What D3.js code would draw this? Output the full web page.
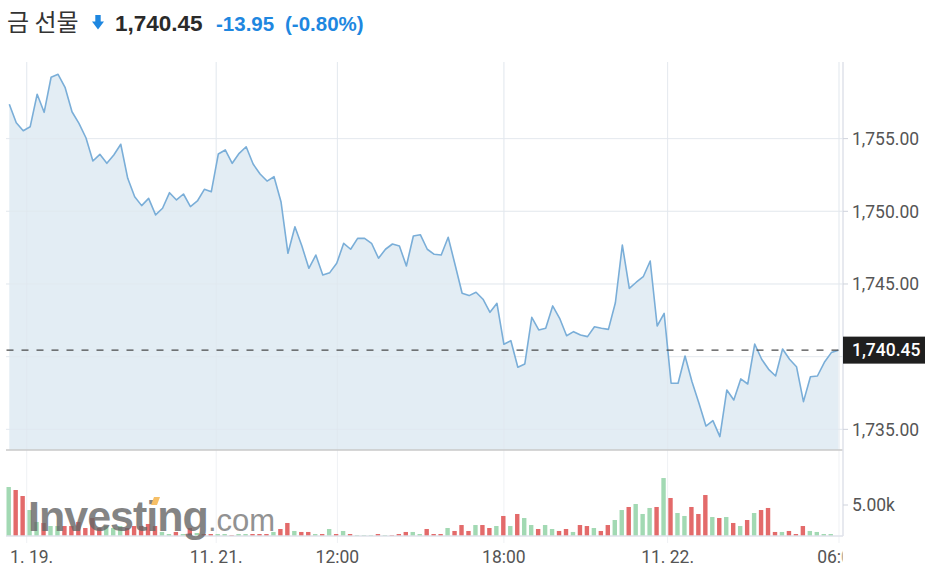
<!DOCTYPE html>
<html><head><meta charset="utf-8">
<script src="https://cdn.jsdelivr.net/npm/d3@7"></script>
<style>body{margin:0;background:#fff;}svg{display:block;}</style>
</head><body>
<svg id="chart" width="933" height="579"></svg>
<script>
// ---- data ----
const title = "금 선물";
const lastPrice = 1740.45;
const change = -13.95;
const changePct = -0.80;

const prices = [
1757.36,1756.09,1755.54,1755.82,1758.05,1756.81,1759.22,1759.42,1758.53,1756.85,
1756.05,1755.06,1753.46,1753.92,1753.30,1753.87,1754.61,1752.27,1751.00,1750.39,
1750.89,1749.75,1750.21,1751.28,1750.78,1751.19,1750.32,1750.71,1751.51,1751.35,
1753.94,1754.22,1753.30,1753.99,1754.44,1753.25,1752.57,1752.08,1752.38,1750.66,
1747.11,1748.94,1747.61,1746.08,1746.99,1745.62,1745.78,1746.42,1747.80,1747.39,
1748.14,1748.14,1747.80,1746.77,1747.39,1747.75,1747.61,1746.24,1748.30,1748.39,
1747.39,1747.04,1746.99,1748.21,1746.31,1744.36,1744.20,1744.43,1743.95,1743.05,
1743.67,1740.85,1741.10,1739.27,1739.50,1742.71,1741.84,1741.95,1743.49,1742.64,
1741.44,1741.72,1741.49,1741.38,1742.06,1741.95,1741.88,1743.71,1747.68,1744.70,
1745.12,1745.50,1746.58,1742.11,1742.98,1738.17,1738.17,1740.05,1738.28,1736.80,
1735.23,1735.60,1734.50,1737.71,1737.02,1738.47,1738.12,1740.87,1739.82,1739.13,
1738.67,1740.53,1739.82,1739.31,1736.91,1738.62,1738.67,1739.61,1740.28,1740.45
];

const volumes = [
7900,7420,6450,4190,2260,2100,1610,1610,1610,1610,
2260,1290,2900,1290,1610,1290,1610,1290,1610,1610,
1940,1610,650,320,650,320,1290,480,320,320,
320,320,160,320,320,320,320,320,650,1130,
2100,810,650,650,320,320,1130,320,810,320,
160,160,160,320,160,160,320,650,650,320,
1130,320,320,1290,810,1770,810,1770,1770,1290,
1610,3230,1610,3550,2900,1770,1130,1770,1130,810,
1130,650,1770,1610,1290,810,1770,2580,4190,4680,
5160,3550,4520,4680,9350,6130,3710,3230,4680,3550,
6610,3060,2900,3060,2100,1610,2580,3710,4190,4520,
650,650,810,320,1610,810,650,320,320
];
// 1 = up (green), 0 = down (red)
const volumeUp = [
1,0,0,1,1,0,1,1,0,0,
0,0,0,0,1,1,1,0,0,0,
0,0,1,1,0,1,0,1,0,0,
1,1,0,1,1,0,0,0,1,0,
0,1,0,0,1,0,1,0,1,0,
1,1,1,0,1,0,0,0,1,1,
0,0,0,1,0,0,0,1,0,0,
1,0,1,0,1,1,0,1,1,0,
0,1,0,0,1,0,0,1,1,0,
1,1,1,0,1,0,1,1,0,0,
0,1,0,1,0,1,0,1,0,0,
0,1,0,0,0,1,1,1,1
];

const priceTicks = [1735, 1740, 1745, 1750, 1755];
const volumeTicks = [5000];
const timeTickPos = [2.5, 29.7, 47.1, 71.0, 94.5, 119.1];
const timeTickLabels = ["11. 19.", "11. 21.", "12:00", "18:00", "11. 22.", "06:00"];

// ---- drawing ----
const svg = d3.select("#chart");
const plotL = 6, plotR = 843, priceTop = 62, priceBottom = 450, volBase = 536;

const x = d3.scaleLinear().domain([0, prices.length - 1]).range([9.3, 838.3]);
const y = d3.scaleLinear().domain([1733.58, 1760.27]).range([priceBottom, priceTop]);
const yv = d3.scaleLinear().domain([0, 5000]).range([volBase, 505]);

const loc = d3.formatLocale({decimal: ".", thousands: ",", grouping: [3], currency: ["", ""], minus: "-"});
const fmt = loc.format(",.2f");
const fmt2 = loc.format(".2f");
const axisFont = "Roboto, 'Liberation Sans', Arial, sans-serif";

// Header
const hdr = svg.append("g");
hdr.append("text").attr("x", 7).attr("y", 31)
  .attr("font-family", "'Noto Sans CJK KR', 'Noto Sans', sans-serif")
  .attr("font-size", 24).attr("fill", "#333").text(title);
hdr.append("path")
  .attr("d", "M95.3,15 L100.7,15 L100.7,21.5 L104,21.5 L98,29.5 L92,21.5 L95.3,21.5 Z")
  .attr("fill", "#1e87e0");
hdr.append("text").attr("x", 115).attr("y", 31)
  .attr("font-family", "'Liberation Sans', Arial, sans-serif")
  .attr("font-size", 22.5).attr("font-weight", "bold").attr("fill", "#2a2a2a").text(fmt(lastPrice));
hdr.append("text").attr("x", 216).attr("y", 31)
  .attr("font-family", "'Liberation Sans', Arial, sans-serif")
  .attr("font-size", 20.5).attr("font-weight", "bold").attr("fill", "#1e87e0").text(fmt2(change));
hdr.append("text").attr("x", 285).attr("y", 31)
  .attr("font-family", "'Liberation Sans', Arial, sans-serif")
  .attr("font-size", 20.5).attr("font-weight", "bold").attr("fill", "#1e87e0").text("(" + fmt2(changePct) + "%)");

// Grid
const grid = svg.append("g");
grid.selectAll("line.h").data(priceTicks).join("line")
  .attr("x1", plotL).attr("x2", plotR)
  .attr("y1", d => y(d)).attr("y2", d => y(d))
  .attr("stroke", "#eff1f4").attr("stroke-width", 1);
grid.selectAll("line.v").data(timeTickPos).join("line")
  .attr("x1", d => x(d)).attr("x2", d => x(d))
  .attr("y1", priceTop).attr("y2", 543)
  .attr("stroke", "#eff1f4").attr("stroke-width", 1);

// Area + line
const area = d3.area().x((d, i) => x(i)).y0(priceBottom).y1(d => y(d));
svg.append("path").datum(prices).attr("d", area).attr("fill", "#e3edf4");
const grid2 = svg.append("g");
grid2.selectAll("line").data(priceTicks).join("line")
  .attr("x1", plotL).attr("x2", plotR)
  .attr("y1", d => y(d)).attr("y2", d => y(d))
  .attr("stroke", "#dfe6ec").attr("stroke-opacity", 0.6);
grid2.selectAll("line.v").data(timeTickPos).join("line")
  .attr("x1", d => x(d)).attr("x2", d => x(d))
  .attr("y1", priceTop).attr("y2", priceBottom)
  .attr("stroke", "#dfe6ec").attr("stroke-opacity", 0.6);

const line = d3.line().x((d, i) => x(i)).y(d => y(d));
svg.append("path").datum(prices).attr("d", line)
  .attr("fill", "none").attr("stroke", "#7aaed8").attr("stroke-width", 1.6)
  .attr("stroke-linejoin", "round");

// price pane bottom border
svg.append("line").attr("x1", plotL).attr("x2", plotR)
  .attr("y1", priceBottom).attr("y2", priceBottom)
  .attr("stroke", "#c8c8c8").attr("stroke-width", 1.5);

// dashed last price line
svg.append("line").attr("x1", 6.5).attr("x2", 838.5)
  .attr("y1", y(lastPrice)).attr("y2", y(lastPrice))
  .attr("stroke", "#4a4a4a").attr("stroke-width", 1.4)
  .attr("stroke-dasharray", "7,8");

// Volume bars
const bw = 4.4;
svg.append("g").selectAll("rect").data(volumes).join("rect")
  .attr("x", (d, i) => x(i) - bw / 2 - 0.6)
  .attr("width", bw)
  .attr("y", d => yv(d))
  .attr("height", d => volBase - yv(d))
  .attr("fill", (d, i) => volumeUp[i] ? "#a2d9b3" : "#e36a6a");

// Volume baseline
svg.append("line").attr("x1", plotL).attr("x2", plotR)
  .attr("y1", volBase).attr("y2", volBase)
  .attr("stroke", "#dfe2ea").attr("stroke-width", 1.5);

// Watermark logo
const logo = svg.append("g").attr("opacity", 0.8);
logo.append("text").attr("x", 28).attr("y", 531)
  .attr("font-family", "'Liberation Sans', Arial, sans-serif")
  .attr("font-size", 43).attr("font-weight", "bold").attr("letter-spacing", -1)
  .attr("fill", "#666").text("Investing");
logo.append("text").attr("x", 208).attr("y", 531)
  .attr("font-family", "'Liberation Sans', Arial, sans-serif")
  .attr("font-size", 31).attr("fill", "#777").text(".com");
logo.append("path").attr("d", "M151,505 L154,497 L160,497 L157,505 Z").attr("fill", "#f5b041");

// Right axis line
svg.append("line").attr("x1", plotR).attr("x2", plotR)
  .attr("y1", priceTop).attr("y2", volBase)
  .attr("stroke", "#dfe2ea").attr("stroke-width", 1.5);

// Right axis ticks + labels (price); the label hidden behind the last-price box is not drawn
const yAxis = svg.append("g");
yAxis.selectAll("line").data(priceTicks).join("line")
  .attr("x1", plotR).attr("x2", plotR + 5)
  .attr("y1", d => y(d)).attr("y2", d => y(d))
  .attr("stroke", "#cfd3dc");
yAxis.selectAll("text").data(priceTicks.filter(d => Math.abs(y(d) - y(lastPrice)) > 20)).join("text")
  .attr("x", 852).attr("y", d => y(d)).attr("dy", "0.36em")
  .attr("font-family", axisFont).attr("font-size", 17.5).attr("fill", "#555")
  .text(d => fmt(d));

// Volume axis
const vAxis = svg.append("g");
vAxis.selectAll("line").data(volumeTicks).join("line")
  .attr("x1", plotR).attr("x2", plotR + 5)
  .attr("y1", d => yv(d)).attr("y2", d => yv(d))
  .attr("stroke", "#cfd3dc");
vAxis.selectAll("text").data(volumeTicks).join("text")
  .attr("x", 852).attr("y", d => yv(d)).attr("dy", "0.36em")
  .attr("font-family", axisFont).attr("font-size", 17.5).attr("fill", "#555")
  .text(d => fmt2(d / 1000) + "k");

// Time axis labels (clipped to plot width)
svg.append("clipPath").attr("id", "xclip").append("rect")
  .attr("x", 8).attr("y", 540).attr("width", 834.5).attr("height", 40);
const xAxis = svg.append("g").attr("clip-path", "url(#xclip)");
xAxis.selectAll("text").data(timeTickPos).join("text")
  .attr("x", d => x(d)).attr("y", 563)
  .attr("text-anchor", "middle")
  .attr("font-family", axisFont).attr("font-size", 17.5).attr("fill", "#555")
  .text((d, i) => timeTickLabels[i]);

// Last price label box
const lp = svg.append("g");
lp.append("rect").attr("x", 843).attr("y", y(lastPrice) - 13.5)
  .attr("width", 82).attr("height", 27).attr("fill", "#1f1f1f");
lp.append("text").attr("x", 852).attr("y", y(lastPrice)).attr("dy", "0.36em")
  .attr("font-family", axisFont).attr("font-size", 17.5).attr("font-weight", 500)
  .attr("fill", "#fff").text(fmt(lastPrice));
</script>
</body></html>
